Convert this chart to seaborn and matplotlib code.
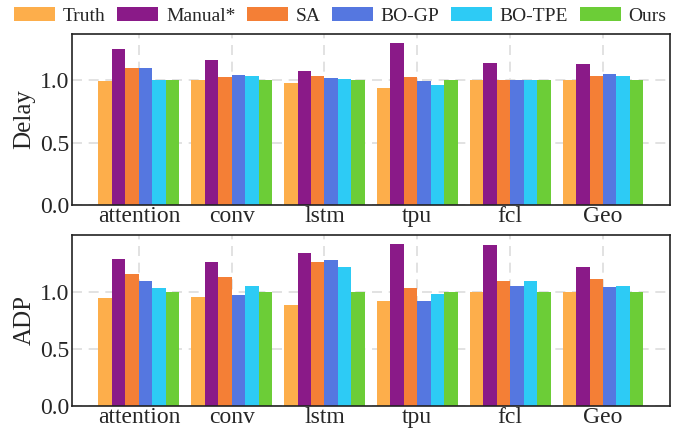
import matplotlib
matplotlib.use("Agg")
import matplotlib.pyplot as plt
from matplotlib.patches import Patch
import seaborn as sns
import pandas as pd

categories = ["attention", "conv", "lstm", "tpu", "fcl", "Geo"]
methods = ["Truth", "Manual*", "SA", "BO-GP", "BO-TPE", "Ours"]
colors = ["#FDAE4B", "#8A1A88", "#F47F36", "#5577E0", "#2DCBF5", "#6CCD37"]

delay_truth = [0.99, 1.00, 0.976, 0.936, 1.00, 1.00]
delay_manual = [1.248, 1.16, 1.072, 1.296, 1.136, 1.128]
delay_sa = [1.096, 1.024, 1.032, 1.024, 1.00, 1.032]
delay_bogp = [1.096, 1.04, 1.016, 0.992, 1.00, 1.048]
delay_botpe = [1.00, 1.032, 1.008, 0.96, 1.00, 1.032]
delay_ours = [1.00, 1.00, 1.00, 1.00, 1.00, 1.00]

adp_truth = [0.947, 0.956, 0.886, 0.921, 1.00, 1.00]
adp_manual = [1.289, 1.263, 1.342, 1.421, 1.412, 1.219]
adp_sa = [1.158, 1.132, 1.263, 1.035, 1.096, 1.114]
adp_bogp = [1.096, 0.974, 1.281, 0.921, 1.053, 1.044]
adp_botpe = [1.035, 1.053, 1.219, 0.982, 1.096, 1.053]
adp_ours = [1.00, 1.00, 1.00, 1.00, 1.00, 1.00]

yticks = [0.0, 0.5, 1.0]


def long_df(series):
    rows = []
    for m, vals in zip(methods, series):
        for c, v in zip(categories, vals):
            rows.append({"cat": c, "method": m, "value": v})
    return pd.DataFrame(rows)


df_delay = long_df([delay_truth, delay_manual, delay_sa, delay_bogp, delay_botpe, delay_ours])
df_adp = long_df([adp_truth, adp_manual, adp_sa, adp_bogp, adp_botpe, adp_ours])

sns.set_style("white")
plt.rcParams["font.family"] = ["Liberation Serif", "DejaVu Serif"]
plt.rcParams["axes.unicode_minus"] = False

fig = plt.figure(figsize=(6.92, 4.30), dpi=100)
ax1 = fig.add_axes([0.104, 0.523, 0.864, 0.398])
ax2 = fig.add_axes([0.104, 0.056, 0.864, 0.398])

palette = dict(zip(methods, colors))

for ax, df, label, ytop in [(ax1, df_delay, "Delay", 1.37), (ax2, df_adp, "ADP", 1.50)]:
    ax.set_axisbelow(True)
    sns.barplot(data=df, x="cat", y="value", hue="method", hue_order=methods,
                order=categories, palette=palette, width=0.87, gap=0,
                saturation=1, legend=False, ax=ax, linewidth=0)
    ax.set_xlim(-0.72, 5.72)
    ax.set_ylim(0, ytop)
    ax.set_yticks(yticks)
    ax.set_yticklabels([f"{t:.1f}" for t in yticks])
    ax.set_xlabel("")
    ax.set_ylabel(label, fontsize=18, labelpad=3)
    ax.tick_params(axis="x", length=0, labelsize=17, pad=1)
    ax.tick_params(axis="y", length=0, labelsize=17, pad=2)
    ax.grid(True, axis="both", linestyle=(0, (6, 4)), color="#dddddd", linewidth=1.2)
    for sp in ax.spines.values():
        sp.set_visible(True)
        sp.set_color("#222222")
        sp.set_linewidth(1.2)

handles = [Patch(facecolor=c, edgecolor="none") for c in colors]
fig.legend(handles, methods, loc="center", bbox_to_anchor=(0.492, 0.962), ncol=6,
           frameon=False, fontsize=14, handlelength=2.1, handleheight=0.72,
           handletextpad=0.4, columnspacing=0.6, borderaxespad=0, borderpad=0)

fig.savefig("out.png", dpi=100)
